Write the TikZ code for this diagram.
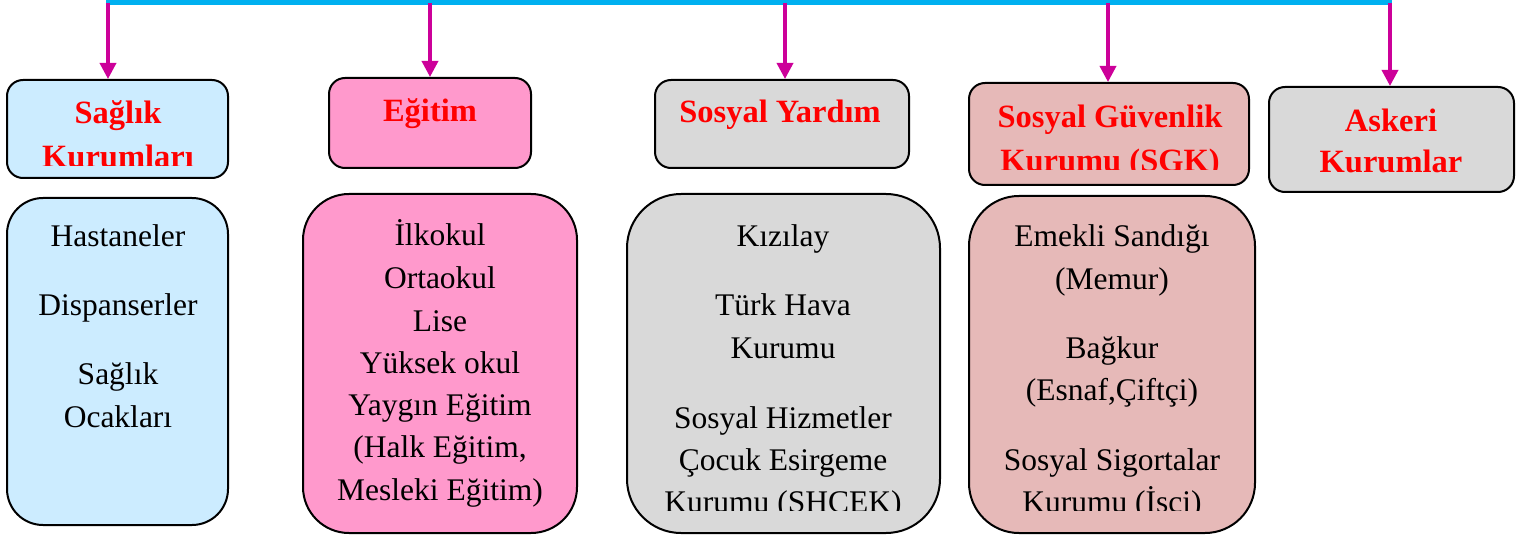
\documentclass[tikz,border=0pt]{standalone}
\usepackage{fontspec}
\setmainfont{Liberation Serif}
\usetikzlibrary{arrows.meta}
\definecolor{cBlue}{HTML}{CCECFF}
\definecolor{cPink}{HTML}{FF99CC}
\definecolor{cGray}{HTML}{D9D9D9}
\definecolor{cRose}{HTML}{E6B9B8}
\definecolor{cBus}{HTML}{00B0F0}
\definecolor{cArr}{HTML}{CC0099}
\definecolor{cRed}{HTML}{FF0000}
\begin{document}
\begin{tikzpicture}[x=1pt,y=-1pt,
  headbox/.style={draw=black,line width=2pt,rounded corners=16pt,inner sep=0pt},
  bodybox/.style={draw=black,line width=2pt,inner sep=0pt},
  head/.style={anchor=base,inner sep=0pt,text=cRed,font=\bfseries\fontsize{32.5}{38}\selectfont},
  body/.style={anchor=base,inner sep=0pt,text=black,font=\fontsize{31.5}{38}\selectfont},
  arr/.style={draw=cArr,line width=3.5pt,-{Triangle[width=16pt,length=16pt]}},
  bus/.style={draw=cBus,line width=5pt}]
\useasboundingbox (0,0) rectangle (1524,540);

% header boxes
\node[headbox,fill=cBlue,minimum width=221pt,minimum height=98pt] (h1) at (117.5,129) {};
\node[headbox,fill=cPink,minimum width=202pt,minimum height=90pt] (h2) at (430,123) {};
\node[headbox,fill=cGray,minimum width=254pt,minimum height=88pt] (h3) at (782,124) {};
\node[headbox,fill=cRose,minimum width=280pt,minimum height=102pt] (h4) at (1109,134) {};
\node[headbox,fill=cGray,minimum width=245pt,minimum height=105pt] (h5) at (1391.5,139.5) {};

% body boxes
\node[bodybox,fill=cBlue,rounded corners=36pt,minimum width=221pt,minimum height=327pt] (b1) at (117.5,361.5) {};
\node[bodybox,fill=cPink,rounded corners=46pt,minimum width=274pt,minimum height=339pt] (b2) at (440,363.5) {};
\node[bodybox,fill=cGray,rounded corners=54pt,minimum width=313pt,minimum height=339pt] (b3) at (783.5,363.5) {};
\node[bodybox,fill=cRose,rounded corners=50pt,minimum width=286pt,minimum height=337pt] (b4) at (1112,364.5) {};

% bus and arrows
\coordinate (a1) at (108,3);
\coordinate (a2) at (430,3);
\coordinate (a3) at (785,3);
\coordinate (a4) at (1108,3);
\coordinate (a5) at (1390,3);
\draw[bus] ([xshift=-1.75pt]a1) -- ([xshift=1.75pt]a5);
\draw[arr] (a1) -- (a1 |- h1.north);
\draw[arr] (a2) -- (a2 |- h2.north);
\draw[arr] (a3) -- (a3 |- h3.north);
\draw[arr] (a4) -- (a4 |- h4.north);
\draw[arr] (a5) -- (a5 |- h5.north);

% header texts
\node[head] (t1a) at (118,124) {Sağlık};
\begin{scope}
  \clip (7,140) rectangle (228,166);
  \node[head] (t1b) at (118,168) {Kurumları};
\end{scope}
\node[head] (t2) at (430,122) {Eğitim};
\node[head] (t3) at (780,123) {Sosyal Yardım};
\node[head] (t4a) at (1110,128) {Sosyal Güvenlik};
\begin{scope}
  \clip (969,140) rectangle (1249,170);
  \node[head] (t4b) at (1110,172) {Kurumu (SGK)};
\end{scope}
\node[head] (t5a) at (1391,132) {Askeri};
\node[head] (t5b) at (1391,173) {Kurumlar};

% body texts
\node[body] (s1) at (118,247) {Hastaneler};
\node[body] (s2) at (118,315) {Dispanserler};
\node[body] (s3) at (118,384) {Sağlık};
\node[body] (s4) at (118,427) {Ocakları};

\node[body] (e1) at (440,246) {İlkokul};
\node[body] (e2) at (440,288) {Ortaokul};
\node[body] (e3) at (440,331) {Lise};
\node[body] (e4) at (440,373) {Yüksek okul};
\node[body] (e5) at (440,415) {Yaygın Eğitim};
\node[body] (e6) at (440,457) {(Halk Eğitim,};
\node[body] (e7) at (440,500) {Mesleki Eğitim)};

\node[body] (y1) at (783,247) {Kızılay};
\node[body] (y2) at (783,316) {Türk Hava};
\node[body] (y3) at (783,358) {Kurumu};
\node[body] (y4) at (783,428) {Sosyal Hizmetler};
\node[body] (y5) at (783,470) {Çocuk Esirgeme};
\begin{scope}
  \clip (640,480) rectangle (930,510);
  \node[body] (y6) at (783,512) {Kurumu (SHÇEK)};
\end{scope}

\node[body] (g1) at (1112,247) {Emekli Sandığı};
\node[body] (g2) at (1112,290) {(Memur)};
\node[body] (g3) at (1112,358) {Bağkur};
\node[body] (g4) at (1112,400) {(Esnaf,Çiftçi)};
\node[body] (g5) at (1112,470) {Sosyal Sigortalar};
\begin{scope}
  \clip (980,480) rectangle (1245,510);
  \node[body] (g6) at (1112,512) {Kurumu (İşçi)};
\end{scope}
\end{tikzpicture}
\end{document}
